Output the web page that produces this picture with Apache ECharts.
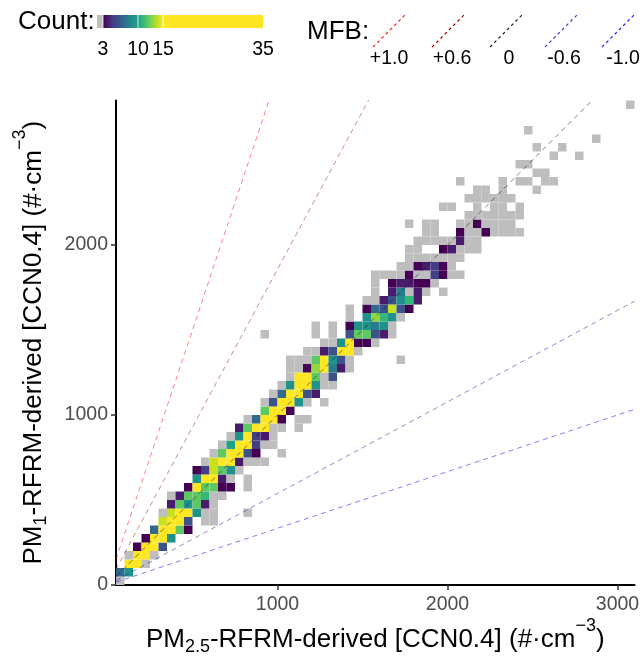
<!DOCTYPE html>
<html>
<head>
<meta charset="utf-8">
<script src="https://cdn.jsdelivr.net/npm/echarts@6/dist/echarts.min.js"></script>
<style>
html,body{margin:0;padding:0;background:#ffffff;}
#chart{width:643px;height:656px;}
</style>
</head>
<body>
<div id="chart"></div>
<script>
// ---------------- DATA ----------------
const BIN = 50;
// y lower edge of each row of bins
const rowYStart = [0,50,100,150,200,250,300,350,400,450,500,550,600,650,700,750,800,850,900,950,
  1000,1050,1100,1150,1200,1250,1300,1350,1400,1450,1500,1550,1600,1650,1700,1750,1800,1850,1900,1950,
  2000,2050,2100,2150,2200,2250,2300,2350,2400,2450,2500,2550,2600,2650,2800];
// x lower edge of the first bin listed in each row
const rowXStart = [50,50,100,100,150,200,250,300,300,350,350,450,500,500,550,600,650,700,750,800,
  900,900,950,1000,1050,1050,1050,1150,1250,900,1200,1400,1400,1500,1550,1550,1550,1700,1750,1750,
  1800,1850,1750,2100,1950,2100,2150,2050,2500,2400,2600,2500,2850,2450,3050];
// counts per bin along each row (0 = empty bin)
const rowCounts = [
  [1],
  [7,9],
  [20,25,1],
  [1,25,22,1],
  [3,20,20,6],
  [3,18,20,9],
  [7,18,20,12,3],
  [14,20,18,6,0,1,1],
  [1,14,18,17,9,1,1,0,0,0,1],
  [4,12,9,12,4,1],
  [1,4,12,12,11,1,1],
  [3,16,12,12,3,3,0,1],
  [9,18,16,4,1,0,1],
  [3,5,14,12,9,1],
  [1,14,18,17,4,1,1,1],
  [1,12,18,16,6,3,0,0,1],
  [1,10,17,16,5,1,1],
  [1,9,17,5,4,1],
  [4,12,17,16,1,1,0,1],
  [1,7,17,16,3,0,1,1],
  [12,17,16,3],
  [1,6,17,16,9,1,0,1],
  [1,7,17,18,6,4],
  [1,9,18,17,9,1,1],
  [1,16,17,12,1,6],
  [1,1,3,13,17,8,4,1],
  [1,1,1,12,16,9,6,1,0,0,0,0,0,1],
  [1,1,4,6,16,17,1],
  [1,1,9,16,3,3,1],
  [1,0,0,0,0,0,1,0,1,0,6,12,12,6,4,1],
  [1,0,1,0,3,9,9,8,9,1],
  [1,0,9,13,11,9,1],
  [1,0,3,7,6,14,6,3],
  [1,1,4,6,9,11,4],
  [1,0,4,8,1,4,1,0,1],
  [1,0,3,4,4,3,3,1],
  [1,1,1,1,3,1,1,5,3,1,1],
  [1,1,3,4,5,3,1],
  [1,1,1,1,1,1,1],
  [1,1,0,0,3,4,1,1,1],
  [1,1,1,1,1,4,1,1],
  [1,1,0,0,3,1,1,3,1,1,1,1],
  [1,0,1,1,0,0,1,1,3,1,1,1,1],
  [1,1,1,1,1,1,1],
  [1,1,0,0,1,0,1,1,0,1],
  [1,1,1,1,1,1],
  [1,1,0,1,0,0,0,1],
  [1,0,0,0,0,1,0,1,1,0,1,1],
  [1,1],
  [1,1],
  [1,0,0,1],
  [1,0,0,1],
  [1],
  [1],
  [1]
];
const xTicks = [1000, 2000, 3000];
const yTicks = [0, 1000, 2000];
const xRange = [50, 3100];
const yRange = [0, 2850];
const mfbValues = [1.0, 0.6, 0, -0.6, -1.0];
const mfbLabels = ['+1.0', '+0.6', '0', '-0.6', '-1.0'];
const countBreaks = [3, 10, 15, 35];

// ---------------- STYLE ----------------
const FONT = "'Liberation Sans', Arial, Helvetica, sans-serif";
const mfbColors = ['rgba(255,0,0,0.5)', 'rgba(139,0,0,0.45)', 'rgba(0,0,0,0.5)', 'rgba(0,0,139,0.45)', 'rgba(0,0,255,0.5)'];
const mfbKeyColors = ['#FF2020', '#A00000', '#202020', '#4040C0', '#2020FF'];
const viridis13 = ['#440154','#481B6D','#433E85','#3B528B','#31688E','#297B8E','#21918C',
  '#1FA188','#35B779','#5EC962','#90D743','#C8E020','#FDE725'];
const colorStops = viridis13.concat(Array(20).fill('#FDE725')); // one stop per count 3..35
const GRAY = '#BEBEBE';

// ---------------- BUILD ----------------
const cells = [];
rowYStart.forEach(function (y0, r) {
  rowCounts[r].forEach(function (c, k) {
    if (c > 0) cells.push([rowXStart[r] + k * BIN + BIN / 2, y0 + BIN / 2, c]);
  });
});

const lineSeries = mfbValues.map(function (m, i) {
  const slope = (2 + m) / (2 - m);
  return {
    type: 'line',
    data: [[xRange[0], xRange[0] * slope], [xRange[1], xRange[1] * slope]],
    symbol: 'none',
    clip: true,
    silent: true,
    z: 5,
    lineStyle: { color: mfbColors[i], width: 1, type: [5, 4] }
  };
});

const rich = {
  n: { fontSize: 26, lineHeight: 40, fontFamily: FONT, color: '#000', verticalAlign: 'middle' },
  sub: { fontSize: 18, lineHeight: 40, fontFamily: FONT, color: '#000', verticalAlign: 'middle', padding: [14, 0, 0, 0] },
  sup: { fontSize: 18, lineHeight: 40, fontFamily: FONT, color: '#000', verticalAlign: 'middle', padding: [0, 0, 28, 0] }
};

// legend graphics
const barX = 103, barW = 160, barY = 15, barH = 13;
const unit = barW / (countBreaks[countBreaks.length - 1] - countBreaks[0]);
const gradStops = colorStops.map(function (c, i) { return { offset: i / (colorStops.length - 1), color: c }; });
const graphics = [
  { type: 'text', x: 18, y: 22, style: { text: 'Count:', font: '26px ' + FONT, fill: '#000', textVerticalAlign: 'middle' } },
  { type: 'rect', shape: { x: barX - 6, y: barY, width: 6, height: barH }, style: { fill: GRAY } },
  { type: 'rect', shape: { x: barX, y: barY, width: barW, height: barH },
    style: { fill: { type: 'linear', x: 0, y: 0, x2: 1, y2: 0, colorStops: gradStops } } }
];
countBreaks.forEach(function (b) {
  const px = barX + (b - countBreaks[0]) * unit;
  if (b < countBreaks[countBreaks.length - 1]) {
    graphics.push({ type: 'line', shape: { x1: px, y1: barY, x2: px, y2: barY + barH },
      style: { stroke: 'rgba(255,255,255,0.8)', lineWidth: 1 } });
  }
  graphics.push({ type: 'text', x: px, y: 50,
    style: { text: String(b), font: '19.5px ' + FONT, fill: '#000', textAlign: 'center', textVerticalAlign: 'middle' } });
});
graphics.push({ type: 'text', x: 307, y: 32,
  style: { text: 'MFB:', font: '26px ' + FONT, fill: '#000', textVerticalAlign: 'middle' } });
const keyCenters = [389, 448, 506, 561, 618];
const labelCenters = [389, 452, 509, 564, 623];
mfbValues.forEach(function (m, i) {
  const cx = keyCenters[i];
  graphics.push({ type: 'line', shape: { x1: cx - 16, y1: 47, x2: cx + 16, y2: 15 },
    style: { stroke: mfbKeyColors[i], lineWidth: 1.2, lineDash: [3, 3] } });
  graphics.push({ type: 'text', x: labelCenters[i], y: 59,
    style: { text: mfbLabels[i], font: '19.5px ' + FONT, fill: '#000', textAlign: 'center', textVerticalAlign: 'middle' } });
});

const chart = echarts.init(document.getElementById('chart'), null, { renderer: 'canvas' });
chart.setOption({
  animation: false,
  backgroundColor: '#ffffff',
  grid: { left: 116, top: 100.5, width: 518.5, height: 484.5, containLabel: false, outerBoundsMode: 'none' },
  xAxis: {
    type: 'value', min: xRange[0], max: xRange[1],
    axisLine: { show: true, onZero: false, lineStyle: { color: '#000', width: 2 } },
    axisTick: { show: true, customValues: xTicks, length: 5, lineStyle: { color: '#333', width: 1.5 } },
    axisLabel: { customValues: xTicks, color: '#4D4D4D', fontSize: 19.5, fontFamily: FONT, margin: 10,
      formatter: function (v) { return String(v); } },
    splitLine: { show: false },
    name: '{n|PM}{sub|2.5}{n|-RFRM-derived [CCN0.4] (#·cm}{sup|−3}{n|)}',
    nameLocation: 'middle', nameGap: 35, nameMoveOverlap: false,
    nameTextStyle: { fontFamily: FONT, color: '#000', rich: rich }
  },
  yAxis: {
    type: 'value', min: yRange[0], max: yRange[1],
    axisLine: { show: true, onZero: false, lineStyle: { color: '#000', width: 2 } },
    axisTick: { show: true, customValues: yTicks, length: 5, lineStyle: { color: '#333', width: 1.5 } },
    axisLabel: { customValues: yTicks, color: '#4D4D4D', fontSize: 19.5, fontFamily: FONT, margin: 8,
      formatter: function (v) { return String(v); } },
    splitLine: { show: false },
    name: '{n|PM}{sub|1}{n|-RFRM-derived [CCN0.4] (#·cm}{sup|−3}{n|)}',
    nameLocation: 'middle', nameGap: 62, nameRotate: 90, nameMoveOverlap: false,
    nameTextStyle: { fontFamily: FONT, color: '#000', rich: rich }
  },
  visualMap: {
    type: 'continuous', show: false, min: countBreaks[0], max: countBreaks[countBreaks.length - 1],
    dimension: 2, seriesIndex: 0,
    inRange: { color: colorStops }
  },
  series: [{
    type: 'custom',
    coordinateSystem: 'cartesian2d',
    data: cells,
    encode: { x: 0, y: 1 },
    silent: true,
    z: 2,
    renderItem: function (params, api) {
      const cx = api.value(0), cy = api.value(1);
      const a = api.coord([cx - BIN / 2, cy + BIN / 2]);
      const b = api.coord([cx + BIN / 2, cy - BIN / 2]);
      const fill = api.value(2) < countBreaks[0] ? GRAY : api.visual('color');
      return { type: 'rect', shape: { x: a[0], y: a[1], width: b[0] - a[0], height: b[1] - a[1] },
        style: { fill: fill } };
    }
  }].concat(lineSeries),
  graphic: graphics
});
</script>
</body>
</html>
